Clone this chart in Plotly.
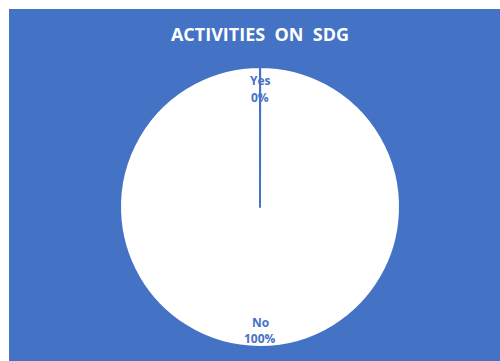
import plotly.graph_objects as go

labels = ["Yes", "No"]
values = [0.02, 100]          # "Yes" is a sliver that rounds to 0%
title_text = "ACTIVITIES  ON  SDG"

BLUE = "#4472C4"
W, H = 500, 361
cx, cy, r = 260, 207, 140

total = sum(values)
percent_labels = [f"{round(100 * v / total)}%" for v in values]

fig = go.Figure(go.Pie(
    labels=labels,
    values=values,
    sort=False,
    direction="clockwise",
    rotation=0,
    textinfo="none",
    hoverinfo="label+percent",
    marker=dict(colors=["white", "white"], line=dict(color=BLUE, width=2)),
    domain=dict(x=[(cx - r) / W, (cx + r) / W],
                y=[(H - cy - r) / H, (H - cy + r) / H]),
    showlegend=False,
))

fig.add_shape(type="rect", xref="paper", yref="paper",
              x0=9 / W, x1=1, y0=0, y1=(H - 9) / H,
              fillcolor=BLUE, line=dict(width=0), layer="below")

# data labels
label_pos = {"Yes": (cy - 126, cy - 110), "No": (cy + 115, cy + 131)}
for lab, pct in zip(labels, percent_labels):
    y1, y2 = label_pos[lab]
    for txt, yy in ((lab, y1), (pct, y2)):
        fig.add_annotation(x=cx / W, y=(H - yy) / H, xref="paper", yref="paper",
                           xanchor="center", yanchor="middle",
                           text=f"<b>{txt}</b>", showarrow=False,
                           font=dict(family="Open Sans", size=12, color=BLUE))

fig.update_layout(
    width=W, height=H,
    margin=dict(l=0, r=0, t=0, b=0),
    paper_bgcolor="white",
    title=dict(text=f"<b>{title_text}</b>", x=cx / W, xanchor="center",
               y=(H - 35) / H, yanchor="middle",
               font=dict(family="Open Sans", size=18, color="white")),
)

fig.write_html("out.html")
